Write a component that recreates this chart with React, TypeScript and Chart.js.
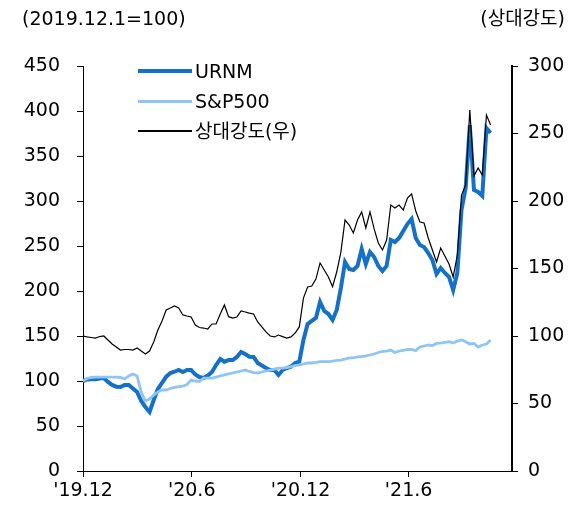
import React, { useEffect, useRef } from "react";
import { Chart, registerables } from "chart.js";
Chart.register(...registerables);

// Weekly observations starting 2019-12-01 (day 0), one point every 7 days
const STEP_DAYS = 7;
const xTickDays = [0, 183, 366, 548];
const xTickLabels = ["'19.12", "'20.6", "'20.12", "'21.6"];

const urnm = [
  100, 101.7, 101.9, 102, 102.8, 103.3, 98.9, 95.6, 93.7, 93.3,
  95.6, 95.6, 91.7, 87.8, 77.8, 71.1, 65.6, 78.9, 91.1, 97.8,
  104.8, 108.9, 110.3, 112.2, 110, 112.2, 112.2, 107.2, 104.4, 103.3,
  106.1, 110, 117.8, 124.4, 121.4, 123.3, 123.3, 126.7, 132.2, 130,
  127, 126.7, 120, 117.2, 114.4, 112.2, 112.2, 106.7, 112.2, 114.4,
  115.9, 120, 121.4, 145.6, 163.3, 166.7, 170, 187.8, 177.8, 174.4,
  167.8, 178.9, 203.3, 232.2, 224.4, 223.3, 227.8, 246.7, 230, 243.3,
  237.8, 227.8, 222.2, 227.8, 256.7, 254.4, 258.9, 266.7, 274.4, 280,
  258.9, 251.1, 248.9, 242.2, 234.4, 218.9, 225.6, 220, 215.6, 201.1,
  220, 290, 314.4, 384.4, 312.2, 310, 305.6, 381, 375.6,
];

const sp500 = [
  100, 102.8, 103.9, 104.4, 104.4, 104.4, 104.4, 104.4, 104.4, 103.9,
  102.2, 105.6, 107.8, 105.6, 87.8, 77.8, 80, 84.4, 87.8, 90,
  90, 91.7, 92.8, 93.7, 94.4, 96.1, 101.1, 100, 99.4, 103.3,
  103.3, 103.3, 104.4, 105.6, 106.7, 107.8, 108.9, 110, 111.1, 112.2,
  110.6, 109.4, 108.9, 110, 111.1, 112.2, 113.3, 114.4, 114.4, 115,
  115.9, 117.2, 117.8, 118.9, 120, 120, 120.6, 121.5, 121.5, 121.5,
  122.2, 122.8, 123.3, 124.4, 125.6, 125.6, 126.7, 127.2, 127.8, 128.9,
  130, 131.7, 132.8, 133.3, 134.4, 131.7, 133.3, 133.9, 135, 135.2,
  133.7, 137.8, 138.9, 140, 139.4, 141.7, 142.2, 142.8, 143.7, 142.2,
  144.4, 145.6, 143.7, 141.1, 141.7, 137.8, 140, 141.1, 145.6,
];

const relStrength = [
  100, 99.3, 98.9, 98.5, 99.6, 100, 97, 94.1, 91.9, 89.6,
  90, 90, 89.6, 91.1, 88.9, 86.7, 88.9, 95.6, 104.4, 111.1,
  119.3, 120.7, 122.2, 120.7, 115.6, 114.8, 114.1, 108.1, 106.3, 105.9,
  105.2, 108.9, 108.9, 116.3, 123, 114.3, 113.3, 114.1, 118.5, 117.8,
  117, 116.3, 110.4, 106.7, 103, 100, 99.3, 100.7, 99.5, 98.5,
  99.3, 102.2, 106.7, 128.1, 136.3, 137, 142.2, 154.1, 148.9, 143.7,
  136.5, 147.4, 162.2, 185.9, 182.2, 176.3, 185.9, 191.9, 180, 191.9,
  179.3, 168.9, 163.7, 171.1, 197, 194.8, 197, 193.3, 202.2, 205.2,
  192.6, 184.4, 183.7, 172.6, 163.7, 154.8, 165.2, 159.3, 153.3, 143.7,
  160, 204.4, 211.9, 267.4, 218.5, 224.4, 219.3, 263.7, 256.3,
];

const FONT = "'DejaVu Sans', 'Noto Sans CJK KR', sans-serif";
const FONT_SIZE = 19;
const URNM_COLOR = "#1570c8";
const SP_COLOR = "#8fc5f4";
const RS_COLOR = "#000000";

const toPoints = (arr: number[]) => arr.map((v, i) => ({ x: i * STEP_DAYS, y: v }));

export default function App() {
  const ref = useRef<HTMLCanvasElement | null>(null);

  useEffect(() => {
    if (!ref.current) return;
    const chart = new Chart(ref.current, {
      type: "line",
      data: {
        datasets: [
          {
            label: "상대강도(우)",
            data: toPoints(relStrength),
            yAxisID: "y1",
            borderColor: RS_COLOR,
            borderWidth: 1.2,
            pointRadius: 0,
            tension: 0,
            order: 0,
          },
          {
            label: "S&P500",
            data: toPoints(sp500),
            yAxisID: "y",
            borderColor: SP_COLOR,
            borderWidth: 2.8,
            pointRadius: 0,
            tension: 0,
            order: 1,
          },
          {
            label: "URNM",
            data: toPoints(urnm),
            yAxisID: "y",
            borderColor: URNM_COLOR,
            borderWidth: 4,
            pointRadius: 0,
            tension: 0,
            order: 2,
          },
        ],
      },
      options: {
        responsive: false,
        animation: false,
        layout: { padding: { top: 66, left: 0, right: 0, bottom: 0 } },
        plugins: { legend: { display: false }, tooltip: { enabled: false } },
        scales: {
          x: {
            type: "linear",
            min: 0,
            max: 722,
            border: { color: "#000", width: 1 },
            grid: { drawOnChartArea: false, drawTicks: true, tickLength: 6, color: "#000" },
            ticks: {
              color: "#000",
              font: { family: FONT, size: FONT_SIZE },
              padding: 3,
              maxRotation: 0,
              autoSkip: false,
              callback: (v: any) => {
                const idx = xTickDays.indexOf(Number(v));
                return idx >= 0 ? xTickLabels[idx] : "";
              },
            },
            afterBuildTicks: (s: any) => {
              s.ticks = xTickDays.map((v) => ({ value: v }));
            },
            afterFit: (s: any) => {
              s.height = 38;
            },
          },
          y: {
            position: "left",
            min: 0,
            max: 450,
            border: { color: "#000", width: 1 },
            grid: { drawOnChartArea: false, drawTicks: true, tickLength: 6, color: "#000" },
            ticks: {
              stepSize: 50,
              color: "#000",
              font: { family: FONT, size: FONT_SIZE },
              padding: 17,
            },
            afterFit: (s: any) => {
              s.width = 83;
            },
          },
          y1: {
            position: "right",
            min: 0,
            max: 300,
            border: { color: "#000", width: 2 },
            grid: { drawOnChartArea: false, drawTicks: true, tickLength: 6, color: "#000" },
            ticks: {
              stepSize: 50,
              color: "#000",
              font: { family: FONT, size: FONT_SIZE },
              padding: 10,
            },
            afterFit: (s: any) => {
              s.width = 75;
            },
          },
        },
      },
    });
    return () => chart.destroy();
  }, []);

  const textStyle: React.CSSProperties = {
    position: "absolute",
    fontFamily: FONT,
    fontSize: FONT_SIZE,
    color: "#000",
    lineHeight: "24px",
    whiteSpace: "nowrap",
  };

  const legend = [
    { label: "URNM", color: URNM_COLOR, w: 4, y: 71 },
    { label: "S&P500", color: SP_COLOR, w: 3, y: 101 },
    { label: "상대강도(우)", color: RS_COLOR, w: 1.2, y: 131 },
  ];

  return (
    <div style={{ position: "fixed", left: 0, top: 0, width: 587, height: 509, background: "#fff" }}>
      <canvas ref={ref} width={587} height={509} style={{ position: "absolute", left: 0, top: 0 }} />
      <div style={{ ...textStyle, left: 22, top: 6 }}>(2019.12.1=100)</div>
      <div style={{ ...textStyle, right: 22, top: 6 }}>(상대강도)</div>
      {legend.map((l) => (
        <React.Fragment key={l.label}>
          <div
            style={{
              position: "absolute",
              left: 138,
              width: 54,
              top: l.y - l.w / 2,
              height: l.w,
              background: l.color,
            }}
          />
          <div style={{ ...textStyle, left: 195, top: l.y - 12 }}>{l.label}</div>
        </React.Fragment>
      ))}
    </div>
  );
}
